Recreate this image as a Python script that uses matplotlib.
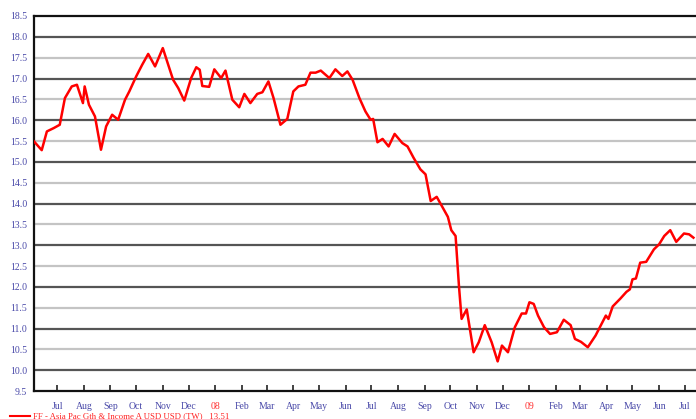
import datetime as dt
import matplotlib
matplotlib.use("Agg")
import matplotlib.pyplot as plt
import matplotlib.dates as mdates

# Weekly-ish NAV readings, FF - Asia Pac Gth & Income A USD
dates = [
    "2007-06-04", "2007-06-13", "2007-06-19", "2007-06-27", "2007-07-04", "2007-07-10",
    "2007-07-18", "2007-07-24", "2007-07-31", "2007-08-02", "2007-08-07", "2007-08-14",
    "2007-08-21", "2007-08-27", "2007-09-03", "2007-09-10", "2007-09-18", "2007-09-23",
    "2007-10-01", "2007-10-08", "2007-10-15", "2007-10-23", "2007-11-01", "2007-11-13",
    "2007-11-19", "2007-11-26", "2007-12-04", "2007-12-10", "2007-12-14", "2007-12-17",
    "2007-12-25", "2007-12-31", "2008-01-08", "2008-01-13", "2008-01-21", "2008-01-29",
    "2008-02-04", "2008-02-11", "2008-02-19", "2008-02-25", "2008-03-03", "2008-03-09",
    "2008-03-17", "2008-03-25", "2008-04-01", "2008-04-07", "2008-04-15", "2008-04-21",
    "2008-04-27", "2008-05-03", "2008-05-13", "2008-05-20", "2008-05-28", "2008-06-03",
    "2008-06-09", "2008-06-17", "2008-06-24", "2008-06-30", "2008-07-03", "2008-07-08",
    "2008-07-14", "2008-07-21", "2008-07-28", "2008-08-06", "2008-08-12", "2008-08-19",
    "2008-08-27", "2008-09-02", "2008-09-08", "2008-09-15", "2008-09-21", "2008-09-28",
    "2008-10-02", "2008-10-07", "2008-10-11", "2008-10-14", "2008-10-20", "2008-10-28",
    "2008-11-03", "2008-11-10", "2008-11-18", "2008-11-25", "2008-11-30", "2008-12-07",
    "2008-12-15", "2008-12-23", "2008-12-28", "2009-01-01", "2009-01-06", "2009-01-11",
    "2009-01-18", "2009-01-25", "2009-02-02", "2009-02-10", "2009-02-18", "2009-02-23",
    "2009-03-02", "2009-03-10", "2009-03-19", "2009-03-29", "2009-03-31", "2009-04-03",
    "2009-04-08", "2009-04-17", "2009-04-24", "2009-04-28", "2009-05-01", "2009-05-05",
    "2009-05-10", "2009-05-17", "2009-05-26", "2009-06-01", "2009-06-07", "2009-06-14",
    "2009-06-21", "2009-06-30", "2009-07-06", "2009-07-11",
]
prices = [
    15.49, 15.28, 15.73, 15.81, 15.89, 16.53,
    16.81, 16.85, 16.41, 16.81, 16.37, 16.09,
    15.29, 15.85, 16.13, 16.01, 16.49, 16.69,
    17.05, 17.33, 17.59, 17.29, 17.73, 16.97,
    16.77, 16.47, 17.01, 17.27, 17.21, 16.82,
    16.80, 17.22, 17.01, 17.19, 16.49, 16.31,
    16.63, 16.41, 16.63, 16.67, 16.93, 16.53,
    15.89, 16.03, 16.69, 16.81, 16.85, 17.14,
    17.14, 17.19, 17.01, 17.22, 17.06, 17.17,
    16.97, 16.53, 16.21, 16.01, 16.03, 15.47,
    15.55, 15.37, 15.67, 15.45, 15.37, 15.10,
    14.82, 14.70, 14.06, 14.16, 13.94, 13.68,
    13.36, 13.22, 12.00, 11.23, 11.46, 10.43,
    10.67, 11.08, 10.67, 10.21, 10.59, 10.43,
    11.03, 11.36, 11.36, 11.63, 11.59, 11.31,
    11.03, 10.87, 10.91, 11.21, 11.08, 10.75,
    10.68, 10.55, 10.83, 11.23, 11.31, 11.23,
    11.53, 11.72, 11.88, 11.94, 12.18, 12.20,
    12.58, 12.60, 12.90, 13.02, 13.22, 13.36,
    13.08, 13.28, 13.26, 13.18,
]
series_label = "FF - Asia Pac Gth & Income A USD USD (TW)   13.51"

y_ticks = [9.5 + 0.5 * i for i in range(19)]

label_blue = "#4848a8"
serif = ["Liberation Serif", "DejaVu Serif"]

x = [dt.datetime.strptime(d, "%Y-%m-%d") for d in dates]

fig = plt.figure(figsize=(6.96, 4.19), dpi=100)
ax = fig.add_axes([34 / 696, 28 / 419, (696 - 34) / 696, (391 - 16) / 419])

# grid: whole numbers dark, halves light
for v in y_ticks[1:-1]:
    col = "#555555" if float(v).is_integer() else "#c4c4c4"
    ax.axhline(v, color=col, lw=1.6, zorder=1)

ax.plot(x, prices, color="#ff0000", lw=1.8, zorder=3, solid_joinstyle="round")

ax.set_ylim(9.5, 18.5)
ax.set_xlim(dt.datetime(2007, 6, 4), dt.datetime(2009, 7, 14))
ax.set_yticks(y_ticks)
ax.set_yticklabels([f"{v:.1f}" for v in y_ticks], fontsize=7, color=label_blue, family=serif)
ax.tick_params(axis="y", length=0, pad=5)

months = mdates.MonthLocator(bymonthday=1)
ticks = months.tick_values(dt.datetime(2007, 6, 20), dt.datetime(2009, 7, 14))
ticks = [t for t in ticks if mdates.num2date(t).replace(tzinfo=None) >= dt.datetime(2007, 7, 1)]
ax.set_xticks(ticks)
labels = []
for t in ticks:
    d = mdates.num2date(t)
    labels.append(d.strftime("%y") if d.month == 1 else d.strftime("%b"))
ax.set_xticklabels(labels, fontsize=7, family=serif)
for t, lab, tk in zip(ticks, ax.get_xticklabels(), ax.xaxis.get_major_ticks()):
    if mdates.num2date(t).month == 1:
        lab.set_color("#ff3030")
        tk.tick1line.set_markersize(7)
    else:
        lab.set_color(label_blue)
ax.tick_params(axis="x", direction="in", length=4, width=1.2, pad=8, color="#222222")

for side in ["top", "left", "bottom"]:
    ax.spines[side].set_linewidth(1.6)
    ax.spines[side].set_color("#111111")
ax.spines["right"].set_visible(False)

# legend strip along the bottom edge
fig.add_artist(plt.Line2D([10 / 696, 30 / 696], [3 / 419, 3 / 419], color="#ff0000", lw=1.5))
fig.text(33 / 696, 3 / 419, series_label, color="#ff2020", fontsize=6.3, family=serif, va="center")

fig.savefig("out.png", dpi=100)
